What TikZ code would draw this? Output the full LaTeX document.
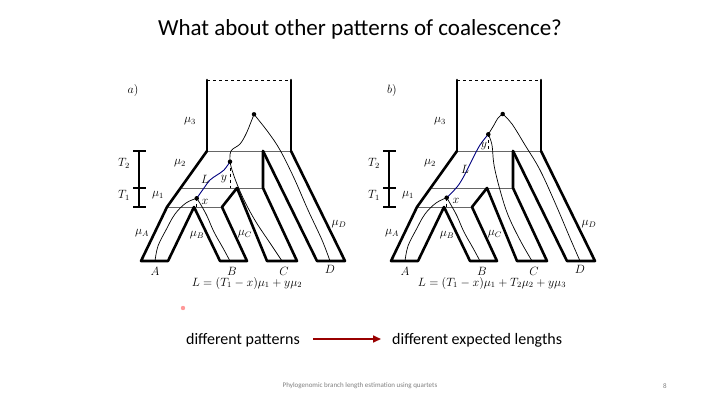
\documentclass[tikz,border=0pt]{standalone}
\usepackage{fontspec}
\setmainfont{Carlito}
\usepackage{amsmath}
\usetikzlibrary{arrows.meta}
\tikzset{
 thk/.style={line width=2.6pt, line cap=round, line join=round},
 thn/.style={line width=0.9pt, gray!80!black},
 gene/.style={line width=0.7pt},
 blu/.style={line width=0.9pt, blue!50!black},
 dot/.style={circle, fill=black, inner sep=0pt, minimum size=4.5pt},
 lab/.style={font=\fontsize{12}{12}\selectfont, inner sep=0pt},
}
\newcommand{\treeframe}{%
 \draw[thk] (207,151) -- (207,80);
 \draw[thk] (291,151) -- (291,80);
 \draw[line width=0.7pt, dashed] (207,80) -- (291,80);
 \draw[thn] (207,151) -- (291,151);
 \draw[thn] (182,188) -- (263,188);
 \draw[thn] (167,207) -- (222,207);
 \draw[thk] (207,151) -- (167,207) -- (141,261) -- (168,261) -- (194,207) -- (220,261) -- (247,261) -- (222,207) -- (237,188) -- (267,261) -- (297,261) -- (263,188) -- (263,151);
 \draw[thk] (263,151) -- (317,261) -- (345,261) -- (291,151);
 \draw[line width=1.4pt] (139,151) -- (139,207);
 \draw[line width=1.4pt] (133,151) -- (146,151) (133,188) -- (146,188) (133,207) -- (146,207);
 \node[lab] at (124,163) {$T_2$};
 \node[lab] at (124,195) {$T_1$};
 \node[lab] at (190,121) {$\mu_3$};
 \node[lab] at (180,163) {$\mu_2$};
 \node[lab] at (158,195) {$\mu_1$};
 \node[lab] at (142,233) {$\mu_A$};
 \node[lab] at (197,235) {$\mu_B$};
 \node[lab] at (245,234) {$\mu_C$};
 \node[lab] at (339,224) {$\mu_D$};
 \node[lab] at (155,271) {$A$};
 \node[lab] at (232,271) {$B$};
 \node[lab] at (284,271) {$C$};
 \node[lab] at (330,269) {$D$};
}
\begin{document}
\begin{tikzpicture}[x=1pt,y=-1pt]
\useasboundingbox (0,0) rectangle (720,404);
\fill[white] (0,0) rectangle (720,404);
\node (title) at (360,29) {\fontsize{23}{23}\selectfont What about other patterns of coalescence?};
% ---------- panel a
\begin{scope}
\treeframe
\node[lab] (pa) at (133,90) {$a)$};
\coordinate (ax) at (196.7,198.3);
\coordinate (ay) at (230,161.7);
\coordinate (ar) at (254,114.3);
\draw[gene] plot[smooth, tension=0.6] coordinates {(155,261) (158,246) (166,230) (175,214) (186,203) (196.7,198.3)};
\draw[gene] plot[smooth, tension=0.6] coordinates {(230,261) (223,248) (214,232) (207,216) (201,205) (196.7,198.3)};
\draw[blu] plot[smooth, tension=0.6] coordinates {(196.7,198.3) (204,188) (210,180) (217,175) (224,170) (230,161.7)};
\draw[gene] plot[smooth, tension=0.6] coordinates {(282,261) (270,243) (256,222) (245,202) (237,184) (232,170) (230,161.7)};
\draw[gene] plot[smooth, tension=0.6] coordinates {(230,161.7) (231,151) (240,144) (246,134) (251,122) (254,114.3)};
\draw[gene] plot[smooth, tension=0.6] coordinates {(330,261) (322,240) (308,210) (294,178) (280,150) (268,132) (254,114.3)};
\draw[line width=0.6pt, dashed] (ay) -- (230,188);
\draw[line width=0.6pt, dashed] (ax) -- (196.7,207);
\node[dot] at (ax) {}; \node[dot] at (ay) {}; \node[dot] at (ar) {};
\node[lab] at (205,202) {$x$};
\node[lab] at (224,179) {$y$};
\node[lab] at (205,179) {$L$};
\node[lab] (fa) at (247,283) {$L=(T_1-x)\mu_1+y\mu_2$};
\end{scope}
% ---------- panel b
\begin{scope}[xshift=250pt]
\treeframe
\node[lab] (pb) at (142,90) {$b)$};
\coordinate (bx) at (196.7,197.7);
\coordinate (by) at (238.3,134.3);
\coordinate (br) at (252.7,114);
\draw[gene] plot[smooth, tension=0.6] coordinates {(155,261) (158,246) (166,230) (175,214) (186,203) (196.7,197.7)};
\draw[gene] plot[smooth, tension=0.6] coordinates {(230,261) (223,248) (214,232) (207,216) (201,205) (196.7,197.7)};
\draw[blu] plot[smooth, tension=0.6] coordinates {(196.7,197.7) (207,187) (214,176) (222,160) (230,145) (238.3,134.3)};
\draw[gene] plot[smooth, tension=0.6] coordinates {(282,261) (270,240) (258,215) (250,190) (244,165) (242,145) (238.3,134.3)};
\draw[gene] plot[smooth, tension=0.6] coordinates {(238.3,134.3) (244,125) (248,118) (252.7,114)};
\draw[gene] plot[smooth, tension=0.6] coordinates {(330,261) (320,238) (306,205) (290,170) (275,145) (262,124) (252.7,114)};
\draw[line width=0.6pt, dashed] (by) -- (238.3,151);
\draw[line width=0.6pt, dashed] (bx) -- (196.7,207);
\node[dot] at (bx) {}; \node[dot] at (by) {}; \node[dot] at (br) {};
\node[lab] at (206,201) {$x$};
\node[lab] at (234,146) {$y$};
\node[lab] at (215,169) {$L$};
\node[lab] (fb) at (242,283) {$L=(T_1-x)\mu_1+T_2\mu_2+y\mu_3$};
\end{scope}
% ---------- bottom
\fill[red!40!white] (183,308) circle (2.2pt);
\node[font=\fontsize{16}{16}\selectfont, anchor=base east, inner sep=0pt] (dp) at (300,344) {different patterns};
\node[font=\fontsize{16}{16}\selectfont, anchor=base west, inner sep=0pt] (dl) at (392,344) {different expected lengths};
\draw[-{Triangle[length=8pt,width=7pt]}, line width=1.6pt, red!60!black] (313,339) -- (381,339);
\node[font=\fontsize{7}{7}\selectfont, gray] (foot) at (360,386) {Phylogenomic branch length estimation using quartets};
\node[font=\fontsize{7}{7}\selectfont, gray] (pg) at (665,386) {8};
\end{tikzpicture}
\end{document}
